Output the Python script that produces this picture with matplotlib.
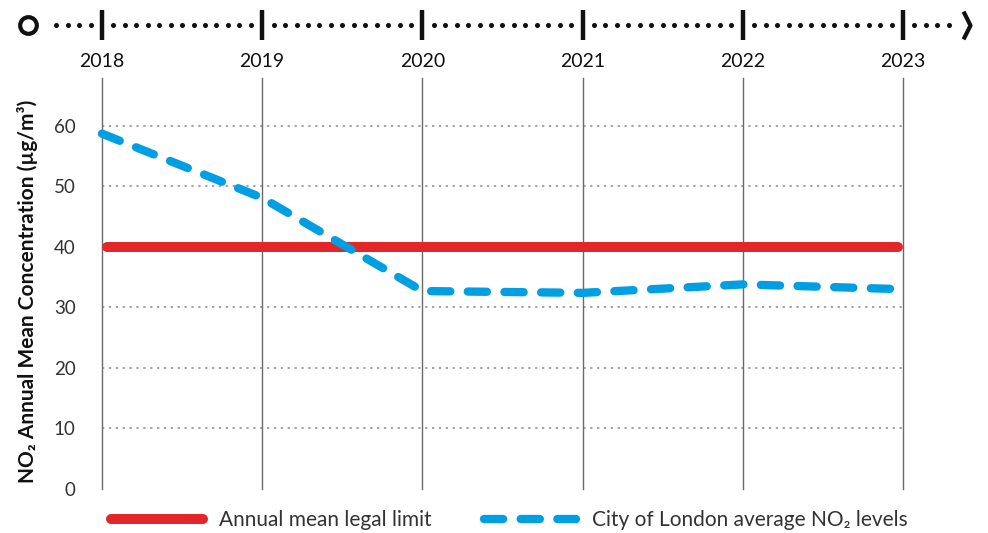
import numpy as np
import matplotlib.pyplot as plt
from matplotlib.lines import Line2D

plt.rcParams['font.family'] = ['Lato', 'DejaVu Sans']

years = [2018, 2019, 2020, 2021, 2022, 2023]
no2_levels = [58.7, 48.1, 32.7, 32.4, 33.8, 33.0]      # City of London average NO2
legal_limit = [40, 40, 40, 40, 40, 40]                 # annual mean legal limit
y_ticks = [0, 10, 20, 30, 40, 50, 60]

red = '#E3262A'
blue = '#009FE3'

fig = plt.figure(figsize=(9.88, 5.33), dpi=100)
ax = fig.add_axes([0.1032, 0.0826, 0.8108, 0.7711])
ax.set_xlim(years[0], years[-1])
ax.set_ylim(0, 67.9)

# gridlines
for y in y_ticks[1:]:
    ax.plot([years[0], years[-1]], [y, y], color='#8a8a8a', lw=1.1, linestyle=(0, (1.5, 3)), zorder=1)
for yr in years:
    ax.axvline(yr, color='#6a6a6a', lw=1.0, zorder=1, clip_on=False)

ax.plot([years[0] + 0.03, years[-1] - 0.03], legal_limit[:2], color=red, lw=7.2,
        solid_capstyle='round', clip_on=False, zorder=3)
ax.plot(years, no2_levels, color=blue, lw=6.0, dashes=(2.3, 2.1), dash_capstyle='round',
        clip_on=False, zorder=4)

for s in ax.spines.values():
    s.set_visible(False)

ax.set_yticks(y_ticks)
ax.tick_params(axis='y', length=0, pad=19, labelsize=13.5, labelcolor='#333333')
ax.xaxis.tick_top()
ax.set_xticks(years)
ax.tick_params(axis='x', length=0, pad=6, labelsize=14, labelcolor='#111111')

ax.set_ylabel('NO₂ Annual Mean Concentration (µg/m³)', fontsize=15, fontweight='bold', color='#111111')
ax.yaxis.set_label_coords(-0.080, 0.48)

# timeline across the top
tl = ax.get_xaxis_transform()
y_tl = 1.129
steps = [k for k in range(-4, 75) if k % 14 != 0]
dots = years[0] + np.array(steps) / 14
ax.plot(dots, [y_tl] * len(dots), linestyle='none', marker='o', ms=2.6, color='#111111',
        transform=tl, clip_on=False)
ax.plot([years[0] - 0.462], [y_tl], marker='o', ms=12, mfc='white', mec='#111111', mew=3,
        transform=tl, clip_on=False, zorder=5)
ax.plot(years, [y_tl] * len(years), linestyle='none', marker='|', ms=21, mew=3.2, color='#111111',
        transform=tl, clip_on=False, zorder=5)
ax.plot([years[0] + 5.42], [y_tl], marker=[(-0.5, 1), (0, 0), (-0.5, -1)], ms=20, mfc='none',
        mec='#111111', mew=3, transform=tl, clip_on=False, zorder=5)

handles = [Line2D([0], [0], color=red, lw=7.2, solid_capstyle='round'),
           Line2D([0], [0], color=blue, lw=6.0, dashes=(2.3, 2.1), dash_capstyle='round')]
fig.legend(handles, ['Annual mean legal limit', 'City of London average NO₂ levels'],
           loc='center left', bbox_to_anchor=(0.104, 0.024), ncol=2, frameon=False,
           fontsize=15, labelcolor='#333333', handlelength=4.4, handletextpad=0.8,
           columnspacing=2.5, borderaxespad=0)

fig.savefig('out.png', dpi=100)
